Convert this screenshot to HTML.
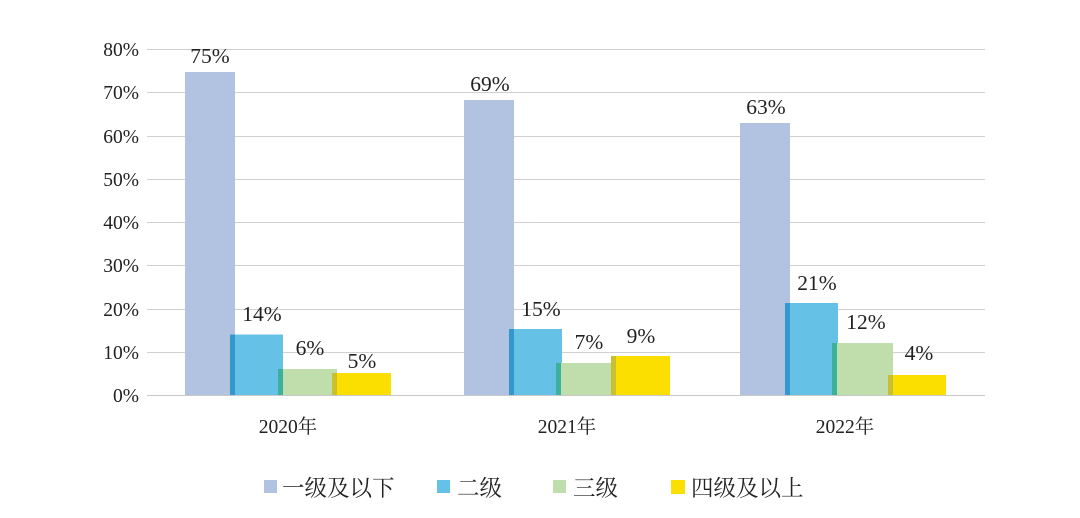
<!DOCTYPE html>
<html><head><meta charset="utf-8"><style>
body{margin:0;background:#fff;}
svg text{font-family:"Liberation Serif","Noto Serif CJK SC",serif;fill:#222;}
</style></head><body>
<svg width="1080" height="513" xmlns="http://www.w3.org/2000/svg">
<g stroke="#d0d0d0" stroke-width="1">
<line x1="147" x2="985" y1="49.5" y2="49.5"/><line x1="147" x2="985" y1="92.5" y2="92.5"/>
<line x1="147" x2="985" y1="136.5" y2="136.5"/><line x1="147" x2="985" y1="179.5" y2="179.5"/>
<line x1="147" x2="985" y1="222.5" y2="222.5"/><line x1="147" x2="985" y1="265.5" y2="265.5"/>
<line x1="147" x2="985" y1="309.5" y2="309.5"/><line x1="147" x2="985" y1="352.5" y2="352.5"/>
</g>
<g font-size="19.5" text-anchor="end">
<text x="139" y="56">80%</text><text x="139" y="99">70%</text><text x="139" y="143">60%</text>
<text x="139" y="186">50%</text><text x="139" y="229">40%</text><text x="139" y="272">30%</text>
<text x="139" y="316">20%</text><text x="139" y="359">10%</text><text x="139" y="402">0%</text>
</g>
<!-- 2020 -->
<rect x="185" y="72" width="50" height="323" fill="#b1c3e1"/>
<rect x="230" y="334.5" width="53" height="60.5" fill="#65c1e6"/><rect x="230" y="334.5" width="5" height="60.5" fill="#3399cc"/>
<rect x="278" y="369" width="59" height="26" fill="#bfdeab"/><rect x="278" y="369" width="5" height="26" fill="#3cb09a"/>
<rect x="332" y="373" width="59" height="22" fill="#fadf00"/><rect x="332" y="373" width="5" height="22" fill="#c8c030"/>
<!-- 2021 -->
<rect x="464" y="100" width="50" height="295" fill="#b1c3e1"/>
<rect x="509" y="329" width="53" height="66" fill="#65c1e6"/><rect x="509" y="329" width="5" height="66" fill="#3399cc"/>
<rect x="556" y="363" width="59" height="32" fill="#bfdeab"/><rect x="556" y="363" width="5" height="32" fill="#3cb09a"/>
<rect x="611" y="356" width="59" height="39" fill="#fadf00"/><rect x="611" y="356" width="5" height="39" fill="#c8c030"/>
<!-- 2022 -->
<rect x="740" y="123" width="50" height="272" fill="#b1c3e1"/>
<rect x="785" y="303" width="53" height="92" fill="#65c1e6"/><rect x="785" y="303" width="5" height="92" fill="#3399cc"/>
<rect x="832" y="343" width="61" height="52" fill="#bfdeab"/><rect x="832" y="343" width="5" height="52" fill="#3cb09a"/>
<rect x="888" y="375" width="58" height="20" fill="#fadf00"/><rect x="888" y="375" width="5" height="20" fill="#c8c030"/>
<line x1="147" x2="985" y1="395.5" y2="395.5" stroke="#c8c8c8"/>
<g font-size="21.5" text-anchor="middle">
<text x="210" y="63">75%</text><text x="262" y="321">14%</text><text x="310" y="355">6%</text><text x="362" y="368">5%</text>
<text x="490" y="91">69%</text><text x="541" y="316">15%</text><text x="589" y="349">7%</text><text x="641" y="343">9%</text>
<text x="766" y="114">63%</text><text x="817" y="290">21%</text><text x="866" y="329">12%</text><text x="919" y="360">4%</text>
</g>
<g font-size="19.5" text-anchor="middle">
<text x="288" y="433">2020年</text><text x="567" y="433">2021年</text><text x="845" y="433">2022年</text>
</g>
<g font-size="22.5">
<rect x="264" y="480" width="13" height="13" fill="#b1c3e1"/><text x="282" y="496">一级及以下</text>
<rect x="437" y="480" width="13" height="13" fill="#65c1e6"/><text x="457" y="496">二级</text>
<rect x="553" y="480" width="13" height="13" fill="#bfdeab"/><text x="573" y="496">三级</text>
<rect x="671" y="480" width="14" height="14" fill="#fadf00"/><text x="691" y="496">四级及以上</text>
</g>
</svg>
</body></html>
